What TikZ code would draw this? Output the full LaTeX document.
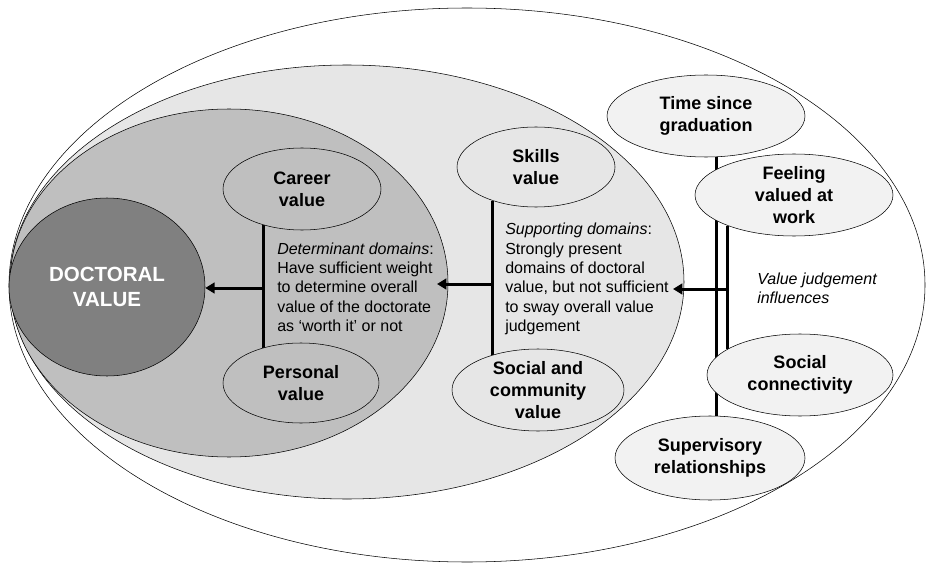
\documentclass[tikz,border=0pt]{standalone}
\usepackage{fontspec}
\setmainfont{Liberation Sans}
\usetikzlibrary{shapes.geometric,arrows.meta}
\definecolor{coreGrey}{RGB}{128,128,128}
\definecolor{detGrey}{RGB}{191,191,191}
\definecolor{supGrey}{RGB}{230,230,230}
\definecolor{inflGrey}{RGB}{242,242,242}
\pgfdeclarelayer{zones}
\pgfdeclarelayer{links}
\pgfsetlayers{zones,links,main}
\tikzset{every picture/.style={line width=0.75pt}}
\tikzset{
	valuebox/.style={ellipse, draw, inner sep=-3pt, align=center, font=\bfseries\fontsize{13.5}{16.5}\selectfont},
	note/.style={anchor=west, inner sep=0pt, align=left, font=\fontsize{12}{14.5}\selectfont},
	link/.style={line width=2.25pt},
	push/.style={link, -{Triangle[length=7pt,width=8pt]}}}

\begin{document}
\begin{tikzpicture}[x=0.75pt,y=0.75pt,yscale=-1,xscale=1]
	\useasboundingbox (0,0) rectangle (928,563);

	%Zones
	\begin{pgfonlayer}{zones}
	\draw [fill=white] (467,285) ellipse (458 and 277);
	\draw [fill=supGrey] (347,282) ellipse (337 and 217);
	\draw [fill=detGrey] (229,283) ellipse (219 and 174);
	\end{pgfonlayer}

	%Core
	\node [valuebox, fill=coreGrey, minimum width=147pt, minimum height=133.5pt, text=white, font=\bfseries\fontsize{15.4}{18.75}\selectfont] (core) at (107,287) {DOCTORAL\\VALUE};

	%Determinant domains
	\node [valuebox, fill=detGrey, minimum width=118.5pt, minimum height=61.5pt] (career) at (302,189) {Career\\value};
	\node [valuebox, fill=detGrey, minimum width=117pt, minimum height=60pt] (personal) at (301,383) {Personal\\value};
	\node [note] (detnote) at (277,287) {\textit{Determinant domains}:\\Have sufficient weight\\to determine overall\\value of the doctorate\\as ‘worth it’ or not};

	%Supporting domains
	\node [valuebox, fill=supGrey, minimum width=118.5pt, minimum height=60pt] (skills) at (536,167) {Skills\\value};
	\node [valuebox, fill=supGrey, minimum width=129pt, minimum height=61.5pt] (social) at (538,390) {Social and\\community\\value};
	\node [note] (supnote) at (505,279) {\textit{Supporting domains}:\\Strongly present\\domains of doctoral\\value, but not sufficient\\to sway overall value\\judgement};

	%Influences
	\node [valuebox, fill=inflGrey, minimum width=148.5pt, minimum height=61.5pt] (time) at (706,116) {Time since\\graduation};
	\node [valuebox, fill=inflGrey, minimum width=148.5pt, minimum height=61.5pt] (feel) at (794,195) {Feeling\\valued at\\work};
	\node [valuebox, fill=inflGrey, minimum width=139.5pt, minimum height=61.5pt] (conn) at (800,375) {Social\\connectivity};
	\node [valuebox, fill=inflGrey, minimum width=142.5pt, minimum height=63pt] (super) at (710,458) {Supervisory\\relationships};
	\node [note, font=\itshape\fontsize{12}{14.5}\selectfont] (inflnote) at (757,288) {Value judgement\\influences};

	%Bars and arrows
	\coordinate (detbar) at (263,288);
	\coordinate (supbar) at (493,284);
	\coordinate (suptip) at (437,284);
	\coordinate (inflbar) at (729,289);
	\coordinate (infltip) at (673,289);
	\begin{pgfonlayer}{links}
	\draw [link] (career.223) -- (career.223 |- personal.137);
	\draw [link] (skills.218) -- (skills.218 |- social.142);
	\draw [link] (time.284) -- (time.284 |- super.north);
	\draw [link] (feel.205) -- (feel.205 |- conn.160);
	\draw [push] (detbar) -- (detbar -| core.east);
	\draw [push] (supbar) -- (suptip);
	\draw [push] (inflbar) -- (infltip);
	\end{pgfonlayer}

\end{tikzpicture}
\end{document}
